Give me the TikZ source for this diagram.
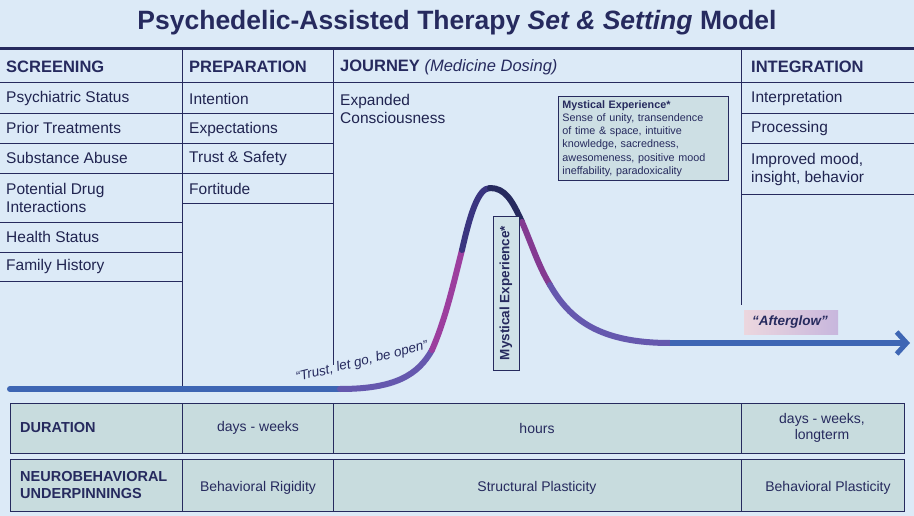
\documentclass[tikz,border=0pt]{standalone}
\usepackage{fontspec}
\setmainfont{Liberation Sans}
\usetikzlibrary{arrows.meta}
\definecolor{bg}{HTML}{DCEAF7}
\definecolor{navy}{HTML}{262A5E}
\definecolor{cellf}{HTML}{C8DCDE}
\definecolor{cblue}{HTML}{3E66B4}
\definecolor{cmid}{HTML}{6558AE}
\definecolor{cpurp}{HTML}{9C3E9E}
\definecolor{cdark}{HTML}{3A3580}
\tikzset{
 hd/.style={anchor=west,font=\fontsize{16.5}{19}\selectfont\bfseries,text=navy,inner sep=0pt},
 it/.style={anchor=west,font=\fontsize{15.5}{19}\selectfont,text=navy!85!black,inner sep=0pt,align=left},
 grid/.style={navy,line width=0.9pt},
 cell/.style={draw=navy,fill=cellf,line width=0.9pt},
 ct/.style={font=\fontsize{14}{16}\selectfont,text=navy,align=center,inner sep=0pt},
 cb/.style={font=\fontsize{14.5}{17}\selectfont\bfseries,text=navy,align=left,anchor=west,inner sep=0pt},
 crv/.style={line width=6pt,line cap=round},
}
\begin{document}
\begin{tikzpicture}[x=1pt,y=-1pt]
\fill[bg] (0,0) rectangle (914,516);
\useasboundingbox (0,0) rectangle (914,516);
\node[font=\fontsize{26.5}{30}\selectfont\bfseries,text=navy] (title) at (457,23) {Psychedelic-Assisted Therapy \textit{Set \& Setting} Model};
\draw[navy,line width=3pt] (0,49) -- (914,49);
% grid
\draw[grid] (182,49) -- (182,388) (333,49) -- (333,365) (741,49) -- (741,305);
\draw[grid] (0,82) -- (914,82);
\foreach \y in {113,143,173,222,252,281} \draw[grid] (0,\y) -- (182,\y);
\foreach \y in {113,143,173,203} \draw[grid] (182,\y) -- (333,\y);
\foreach \y in {113,143,194} \draw[grid] (741,\y) -- (914,\y);
% headers
\node[hd] (h1) at (6,67) {SCREENING};
\node[hd] (h2) at (189,67) {PREPARATION};
\node[hd] (h3) at (340,67) {JOURNEY \textmd{\textit{(Medicine Dosing)}}};
\node[hd] (h4) at (751,67) {INTEGRATION};
\node[it] (s1) at (6,98) {Psychiatric Status};
\node[it] (s2) at (6,128) {Prior Treatments};
\node[it] (s3) at (6,158) {Substance Abuse};
\node[it] (s4) at (6,198) {Potential Drug\\[-1pt]Interactions};
\node[it] (s5) at (6,237) {Health Status};
\node[it] (s6) at (6,266) {Family History};
\node[it] (p1) at (189,99) {Intention};
\node[it] (p2) at (189,129) {Expectations};
\node[it] (p3) at (189,159) {Trust \& Safety};
\node[it] (p4) at (189,189) {Fortitude};
\node[it] (j1) at (340,109) {Expanded\\[-1pt]Consciousness};
\node[it] (i1) at (751,98) {Interpretation};
\node[it] (i2) at (751,128) {Processing};
\node[it] (i3) at (751,169) {Improved mood,\\[-1pt]insight, behavior};
% curve
\coordinate (c0) at (10,389);
\coordinate (c1) at (340,389);
\coordinate (c2) at (432,350);
\coordinate (c3) at (462,250);
\coordinate (c4) at (490,188);
\coordinate (c5) at (522,222);
\coordinate (c6) at (550,285);
\coordinate (c7) at (670,343);
\coordinate (c8) at (910,343);
\draw[crv,cblue] (c0) -- (c1);
\draw[crv,cmid] (c1) .. controls (395,389) and (418,375) .. (c2);
\draw[crv,cpurp] (c2) .. controls (445,320) and (452,290) .. (c3);
\draw[crv,cdark] (c3) .. controls (470,215) and (478,188) .. (c4);
\draw[crv,navy] (c4) .. controls (505,188) and (512,200) .. (c5);
\draw[crv,cpurp!80!navy] (c5) .. controls (532,245) and (538,265) .. (c6);
\draw[crv,cmid] (c6) .. controls (570,320) and (600,343) .. (c7);
\draw[crv,cblue,line cap=butt,-{Straight Barb[length=10pt,width=22pt,line width=5pt]}] (c7) -- (c8);
\node[font=\fontsize{13.5}{15}\selectfont\itshape,text=navy,rotate=14] (trust) at (362,362) {“Trust, let go, be open”};
% mystical
\node[draw=navy,fill=cellf!60!bg,line width=0.9pt,minimum width=26pt,minimum height=154pt,inner sep=0pt] (mv) at (506,293) {};
\node[rotate=90,font=\fontsize{13.5}{15}\selectfont\bfseries,text=navy] (mvt) at (mv.center) {Mystical Experience*};
\node[draw=navy,fill=cellf!75!bg,line width=0.9pt,anchor=north west,align=left,text width=162pt,inner sep=4pt,font=\fontsize{10.8}{13.2}\selectfont,text=navy] (md) at (558,96) {\textbf{Mystical Experience*}\\Sense of unity, transendence\\of time \& space, intuitive\\knowledge, sacredness,\\awesomeness, positive mood\\ineffability, paradoxicality};
\shade[left color=pink!45!bg,right color=violet!22!bg] (744,310) rectangle (838,334);
\node[font=\fontsize{13.5}{15}\selectfont\bfseries\itshape,text=navy] (ag) at (790,322) {“Afterglow”};
% bottom table
\draw[cell] (10,403) rectangle (904,453);
\draw[cell] (10,459) rectangle (904,511);
\draw[grid] (182,403) -- (182,453) (333,403) -- (333,453) (741,403) -- (741,453);
\draw[grid] (182,459) -- (182,511) (333,459) -- (333,511) (741,459) -- (741,511);
\node[cb] (d0) at (20,428) {DURATION};
\node[ct] (d1) at (258,428) {days - weeks};
\node[ct] (d2) at (537,428) {hours};
\node[ct] (d3) at (822,428) {days - weeks,\\longterm};
\node[cb] (n0) at (20,485) {NEUROBEHAVIORAL\\UNDERPINNINGS};
\node[ct] (n1) at (258,488) {Behavioral Rigidity};
\node[ct] (n2) at (537,488) {Structural Plasticity};
\node[ct] (n3) at (828,488) {Behavioral Plasticity};
\end{tikzpicture}
\end{document}
